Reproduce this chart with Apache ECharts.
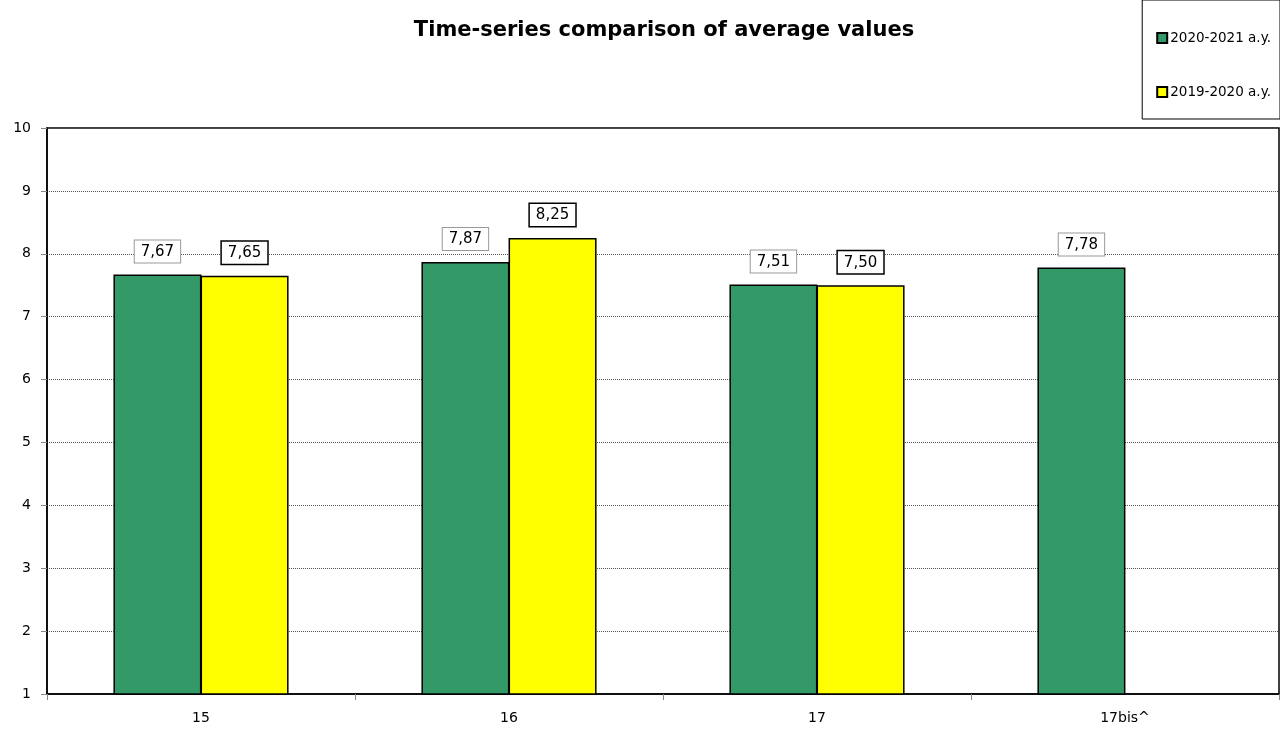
<!DOCTYPE html>
<html><head><meta charset="utf-8">
<script src="https://cdn.jsdelivr.net/npm/echarts@6/dist/echarts.min.js"></script>
<style>html,body{margin:0;padding:0;background:#fff}#c{width:1280px;height:729px}</style>
</head><body><div id="c"></div>
<script>
const categories = ['15', '16', '17', '17bis^'];
const series2021 = [7.67, 7.87, 7.51, 7.78];
const series2020 = [7.65, 8.25, 7.50, 1];
const seriesNames = ['2020-2021 a.y.', '2019-2020 a.y.'];
const yTicks = [1, 2, 3, 4, 5, 6, 7, 8, 9, 10];

const FONT = '"DejaVu Sans", sans-serif';
const fmt = v => v.toFixed(2).replace('.', ',');

const chart = echarts.init(document.getElementById('c'));
function labelCfg(border) {
  return {
    show: true, position: 'top', distance: 12,
    formatter: p => fmt(p.value),
    color: '#000', fontFamily: FONT, fontSize: 15,
    backgroundColor: '#fff', borderColor: border, borderWidth: border === '#000' ? 1.5 : 1,
    padding: [4, 6, 3, 6]
  };
}
chart.setOption({
  animation: false,
  title: {
    text: 'Time-series comparison of average values',
    left: 659, top: 15, textAlign: 'center',
    textStyle: { fontFamily: FONT, fontWeight: 'bold', fontSize: 21, color: '#000' }
  },
  legend: {
    orient: 'vertical', right: 0, top: 0,
    width: 140, height: 120,
    padding: [31, 9, 20, 14], itemGap: 40,
    itemWidth: 10, itemHeight: 10,
    borderColor: '#000', borderWidth: 1,
    textStyle: { fontFamily: FONT, fontSize: 13.5, color: '#000', padding: [0, 0, 0, -2] },
    data: seriesNames.map(n => ({ name: n, icon: 'rect' }))
  },
  grid: {
    left: 47, right: 1, top: 128, bottom: 35,
    show: true, borderColor: '#000', borderWidth: 1.5, backgroundColor: 'transparent'
  },
  xAxis: {
    type: 'category', data: categories,
    axisLine: { lineStyle: { color: '#000', width: 1.5 } },
    axisTick: { show: true, length: 6, lineStyle: { color: '#888' } },
    axisLabel: { fontFamily: FONT, fontSize: 14, color: '#000', margin: 17 }
  },
  yAxis: {
    type: 'value', min: yTicks[0], max: yTicks[yTicks.length - 1], interval: 1,
    axisLine: { show: true, lineStyle: { color: '#000', width: 1.5 } },
    axisTick: { show: true, length: 6, lineStyle: { color: '#888' } },
    axisLabel: { fontFamily: FONT, fontSize: 14, color: '#000', margin: 16 },
    splitLine: { show: true, lineStyle: { color: '#555', type: [1, 1], width: 1 } }
  },
  series: [
    {
      name: seriesNames[0], type: 'bar', data: series2021,
      barWidth: 88, barGap: '-1%',
      itemStyle: { color: '#339966', borderColor: '#000', borderWidth: 1.5 },
      label: labelCfg('#999')
    },
    {
      name: seriesNames[1], type: 'bar',
      data: series2020.map((v, i) => i === 3 ? { value: v, label: { show: false }, itemStyle: { borderColor: '#ffff00' } } : v),
      barWidth: 88,
      itemStyle: { color: '#ffff00', borderColor: '#000', borderWidth: 1.5 },
      label: labelCfg('#000')
    }
  ]
});
</script></body></html>
